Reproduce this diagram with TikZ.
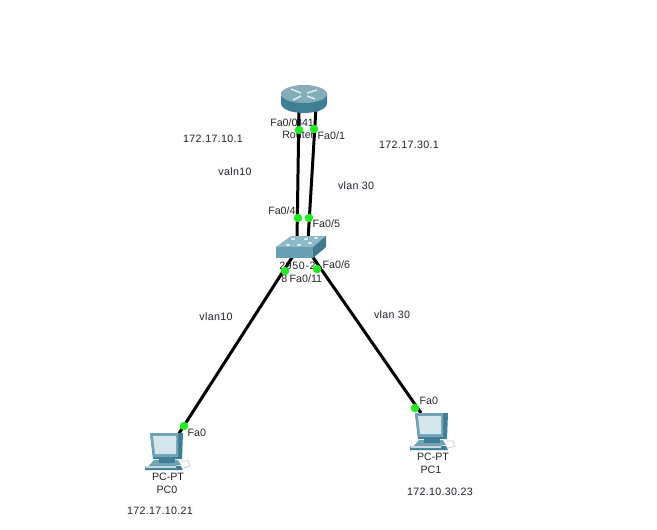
\documentclass[tikz,border=0pt]{standalone}
\usepackage{fontspec}
\setmainfont{Liberation Sans}
\usetikzlibrary{calc}
\definecolor{pcdark}{HTML}{3E7F96}
\definecolor{pcmid}{HTML}{6FA3B5}
\definecolor{pcscreen}{HTML}{D5E5EC}
\definecolor{swtop}{HTML}{8DB9C8}
\definecolor{swfront}{HTML}{669FB2}
\definecolor{swside}{HTML}{3F7A90}
\definecolor{linkgreen}{HTML}{1CF01C}
\tikzset{
  x=0.75pt,y=-0.75pt,
  lbl/.style={font=\fontsize{8}{9.5}\selectfont,inner sep=0pt,text=black!85,yshift=-0.6pt},
  clearlbl/.style={lbl,fill=white,inner sep=0.3pt},
  note/.style={font=\fontsize{8}{9.5}\selectfont\addfontfeature{LetterSpace=3},inner sep=0.6pt,text=black!85,fill=blue!2,yshift=-0.4pt},
  link/.style={line width=2.25pt,black},
  portdot/.style={circle,fill=linkgreen,inner sep=0pt,minimum size=6.4pt},
  anchorbox/.style={inner sep=0pt,minimum width=0pt},
}
\newcommand{\pcicon}[2]{%
\begin{scope}[shift={(#1,#2)}]
  % keyboard and base
  \fill[pcmid] (4,27) -- (28,27) -- (31,32) -- (-5,37) -- cycle;
  \fill[pcdark] (-5,33) -- (31,33) -- (33,37) -- (-5,37) -- cycle;
  \fill[pcmid!40] (-5,33) -- (26,33) -- (26,35) -- (-4,35) -- cycle;
  \draw[gray!40,line width=0.6pt] (31,28) -- (38,28) -- (40,33) -- (33,35);
  \fill[pcdark] (9,24) rectangle (25,30);
  % monitor
  \fill[pcdark] (0,0) -- (33,0) -- (32,26) -- (3,26) -- cycle;
  \fill[pcmid] (0,0) -- (28,0) -- (28,24) -- (3,24) -- cycle;
  \fill[pcscreen] (3,3) -- (26,3) -- (26,21) -- (5,21) -- cycle;
\end{scope}}
\begin{document}
\begin{tikzpicture}
\useasboundingbox (0,0) rectangle (657,529);
\fill[white] (0,0) rectangle (657,529);
% device place holders
\node[anchorbox,minimum width=34.5pt,minimum height=21pt] (router) at (304,99) {};
\node[anchorbox,minimum width=37.5pt,minimum height=16.5pt] (switch) at (301,247) {};
\node[anchorbox,minimum width=33pt,minimum height=28pt] (pc0) at (167,452) {};
\node[anchorbox,minimum width=33pt,minimum height=28pt] (pc1) at (432,432) {};
\coordinate (ra) at (299,108);
\coordinate (rb) at (316,108);
\coordinate (sa) at (297,240);
\coordinate (sb) at (308,240);
\coordinate (sc) at (293,256);
\coordinate (sd) at (312,256);
\coordinate (pa) at (178,435);
\coordinate (pb) at (421,413);
% labels that lie under the links
\node[lbl,anchor=west] (t1) at (270,122) {Fa0/0};
\node[lbl] (t2) at (305,122) {841};
\node[lbl,anchor=west] (t3) at (282,134) {Router};
\node[lbl,anchor=west,font=\fontsize{8}{9.5}\selectfont\addfontfeature{LetterSpace=6}] (t7) at (279,265) {2950-2};
\node[lbl,anchor=west] (t9) at (281,278) {8};
% links
\draw[link] (ra) -- (sa);
\draw[link] (rb) -- (sb);
\draw[link] (sc) -- (pa);
\draw[link] (sd) -- (pb);
% link lights
\node[portdot] (d1) at (299,130) {};
\node[portdot] (d2) at (314,129) {};
\node[portdot] (d3) at (298,218) {};
\node[portdot] (d4) at (309,218) {};
\node[portdot] (d5) at (285,271) {};
\node[portdot] (d6) at (317,269) {};
\node[portdot] (d7) at (184,426) {};
\node[portdot] (d8) at (415,408) {};
% router icon
\shade[left color=pcdark,middle color=white,right color=pcdark]
  (281,94) -- (281,103) .. controls (281,116.3) and (327,116.3) .. (327,103) -- (327,94) -- cycle;
\shade[top color=swtop!80!gray,bottom color=pcmid!90!white] (304,94) ellipse[x radius=23,y radius=9];
\foreach \a/\b/\c/\d in {291/89/301/93, 317/90/307/93, 293/100/301/96, 315/99/307/96}{
  \draw[white!85!pcmid,line width=1pt] (\a,\b) -- (\c,\d);}
% switch icon
\fill[swtop] (276,247) -- (291,236) -- (326,236) -- (313,247) -- cycle;
\fill[swfront] (276,247) rectangle (313,258);
\fill[swside] (313,247) -- (326,236) -- (326,247) -- (313,258) -- cycle;
\foreach \a/\b in {288/245,299/245,293/239,316/238,310/243,306/239}{
  \fill[white!80!swtop] (\a,\b) ellipse[x radius=2,y radius=1];}
% pcs
\pcicon{150}{433}
\pcicon{415}{413}
% port labels
\node[clearlbl,anchor=west] (t4) at (317,135) {Fa0/1};
\node[lbl,anchor=west] (t5) at (268,210) {Fa0/4};
\node[clearlbl,anchor=west] (t6) at (312,223) {Fa0/5};
\node[clearlbl,anchor=west] (t8) at (322,264) {Fa0/6};
\node[clearlbl,anchor=west] (t10) at (289,278) {Fa0/11};
\node[clearlbl,anchor=west] (t11) at (187,432) {Fa0};
\node[clearlbl,anchor=west] (t12) at (419,400) {Fa0};
% device labels
\node[lbl] (n1) at (168,476) {PC-PT};
\node[lbl] (n2) at (167,489) {PC0};
\node[lbl] (n3) at (433,456) {PC-PT};
\node[lbl] (n4) at (431,469) {PC1};
% notes
\node[note] (a1) at (213,138) {172.17.10.1};
\node[note] (a2) at (409,144) {172.17.30.1};
\node[note] (a3) at (235,171) {valn10};
\node[note] (a4) at (356,185) {vlan 30};
\node[note] (a5) at (216,316) {vlan10};
\node[note] (a6) at (392,314) {vlan 30};
\node[note] (a7) at (160,510) {172.17.10.21};
\node[note] (a8) at (440,491) {172.10.30.23};
\end{tikzpicture}
\end{document}
